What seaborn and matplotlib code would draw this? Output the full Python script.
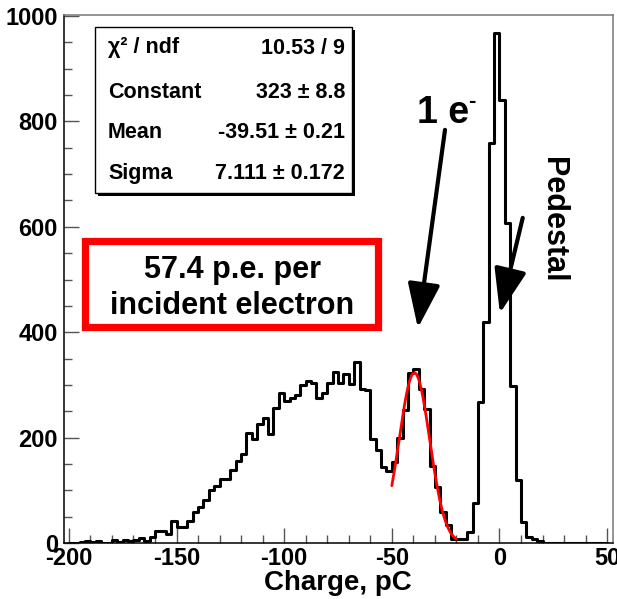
import numpy as np
import pandas as pd
import matplotlib
matplotlib.use("Agg")
import matplotlib.pyplot as plt
import seaborn as sns
from matplotlib.patches import Rectangle
from matplotlib.ticker import MultipleLocator

# ---------------- data ----------------
bin_width = 2.5
bin_start = -200.0
counts = [
    0, 0, 2, 3, 2, 3, 0, 0, 5, 1,            # -200 .. -177.5
    6, 4, 6, 9, 3, 11, 22, 22, 18, 41,       # -175 .. -152.5
    30, 30, 41, 58, 68, 82, 101, 108, 122, 122,  # -150 .. -127.5
    138, 156, 168, 209, 198, 226, 238, 207, 256, 284,  # -125 .. -102.5
    270, 276, 281, 299, 308, 304, 275, 285, 303, 325,  # -100 .. -77.5
    303, 320, 301, 344, 293, 290, 197, 176, 145, 137,  # -75 .. -52.5
    154, 199, 252, 322, 330, 292, 254, 146, 107, 58,   # -50 .. -27.5
    34, 8, 7, 7, 21, 75, 268, 420, 760, 967,           # -25 .. -2.5
    841, 608, 297, 120, 40, 12, 7, 4, 0, 0,            # 0 .. 22.5
    0, 0, 0, 0, 0, 0, 0, 0, 0, 0,                      # 25 .. 47.5
]
fit_constant = 323.0
fit_mean = -39.51
fit_sigma = 7.111
fit_range = (-50.0, -20.0)

stat_labels = ["\u03c7\u00b2 / ndf", "Constant", "Mean", "Sigma"]
stat_values = ["10.53 / 9", "323 \u00b1 8.8", "-39.51 \u00b1 0.21", "7.111 \u00b1 0.172"]

x_ticks = [-200, -150, -100, -50, 0, 50]
y_ticks = [0, 200, 400, 600, 800, 1000]

n_bins = len(counts)
centers = bin_start + bin_width * (np.arange(n_bins) + 0.5)
df = pd.DataFrame({"charge": centers, "n": np.array(counts, dtype=float)})

# ---------------- style ----------------
sns.set_style("ticks")
plt.rcParams["font.family"] = ["Liberation Sans", "DejaVu Sans"]
plt.rcParams["font.weight"] = "bold"
plt.rcParams["text.color"] = "black"
plt.rcParams["axes.labelcolor"] = "black"
plt.rcParams["xtick.color"] = "black"
plt.rcParams["ytick.color"] = "black"

W, H = 617, 599
fig = plt.figure(figsize=(W / 100, H / 100), dpi=100)
fig.patch.set_facecolor("white")

def fx(px):
    return px / W

def fy(py):
    return 1 - py / H

ax = fig.add_axes([fx(63.5), fy(543), fx(612.5) - fx(63.5), fy(15) - fy(543)])

sns.histplot(data=df, x="charge", weights="n", binwidth=bin_width,
             binrange=(bin_start, bin_start + bin_width * n_bins), element="step",
             fill=False, color="black", linewidth=2.2, ax=ax)

xf = np.linspace(fit_range[0], fit_range[1], 200)
yf = fit_constant * np.exp(-0.5 * ((xf - fit_mean) / fit_sigma) ** 2)
ax.plot(xf, yf, color="red", linewidth=2.0, zorder=5)

ax.set_xlim(-202.5, 52.5)
ax.set_ylim(0, 1002)
ax.set_xticks(x_ticks)
ax.set_yticks(y_ticks)
ax.set_xticklabels([str(t) for t in x_ticks])
ax.set_yticklabels([str(t) for t in y_ticks])
ax.xaxis.set_minor_locator(MultipleLocator(10))
ax.yaxis.set_minor_locator(MultipleLocator(50))
ax.tick_params(axis="both", which="major", direction="in", length=11, width=1,
               color="#555555", labelcolor="black", labelsize=17, pad=4)
ax.tick_params(axis="both", which="minor", direction="in", length=5.5, width=1,
               color="#555555")
ax.tick_params(axis="x", which="major", pad=3)
for lab in ax.get_xticklabels() + ax.get_yticklabels():
    lab.set_fontweight("bold")
    lab.set_color("black")
ax.set_xlabel("Charge, pC", fontsize=20, fontweight="bold", labelpad=0, color="black")
ax.set_ylabel("")
for s in ax.spines.values():
    s.set_color("black")
    s.set_linewidth(1.1)
ax.spines["top"].set_color("#777777")
ax.spines["right"].set_color("#777777")

# ---------------- stats box ----------------
bx0, by0, bx1, by1 = 95, 27, 352, 193
shadow = Rectangle((fx(bx0 + 3), fy(by1 + 3)), fx(bx1 - bx0), fy(by0) - fy(by1),
                   transform=fig.transFigure, facecolor="black", edgecolor="none", zorder=9)
fig.patches.append(shadow)
box = Rectangle((fx(bx0), fy(by1)), fx(bx1 - bx0), fy(by0) - fy(by1),
                transform=fig.transFigure, facecolor="white", edgecolor="black",
                linewidth=1.0, zorder=10)
fig.patches.append(box)
rows_y = [48, 92, 133, 174]
for lab, val, yy in zip(stat_labels, stat_values, rows_y):
    fig.text(fx(108), fy(yy), lab, ha="left", va="center", fontsize=15.5,
             fontweight="bold", color="black", zorder=11)
    fig.text(fx(345), fy(yy), val, ha="right", va="center", fontsize=15.5,
             fontweight="bold", color="black", zorder=11)

# ---------------- red box ----------------
red = Rectangle((fx(85.5), fy(326.5)), fx(378.5 - 85.5), fy(241.5) - fy(326.5),
                transform=fig.transFigure, facecolor="white", edgecolor="#ff0000",
                linewidth=5.2, zorder=10)
fig.patches.append(red)
fig.text(fx(232), fy(270), "57.4 p.e. per", ha="center", va="center",
         fontsize=22, fontweight="bold", color="black", zorder=11)
fig.text(fx(232), fy(306), "incident electron", ha="center", va="center",
         fontsize=22, fontweight="bold", color="black", zorder=11)

# ---------------- annotations ----------------
ax.text(-38.5, 816, "1 e", ha="left", va="center", fontsize=27, fontweight="bold",
        color="black")
ax.text(-14.5, 838, "-", ha="left", va="center", fontsize=16, fontweight="bold",
        color="black")
ax.text(25.0, 613, "Pedestal", ha="center", va="center", rotation=-90,
        fontsize=22, fontweight="bold", color="black")

arrow_style = "-|>,head_length=1.37,head_width=0.5"
ax.annotate("", xy=(-37.9, 408), xytext=(-25.3, 784),
            arrowprops=dict(arrowstyle=arrow_style, color="black", lw=3,
                            shrinkA=0, shrinkB=0, mutation_scale=20))
ax.annotate("", xy=(0.2, 436), xytext=(10.8, 617),
            arrowprops=dict(arrowstyle=arrow_style, color="black", lw=3,
                            shrinkA=0, shrinkB=0, mutation_scale=20))

fig.savefig("out.png", dpi=100)
